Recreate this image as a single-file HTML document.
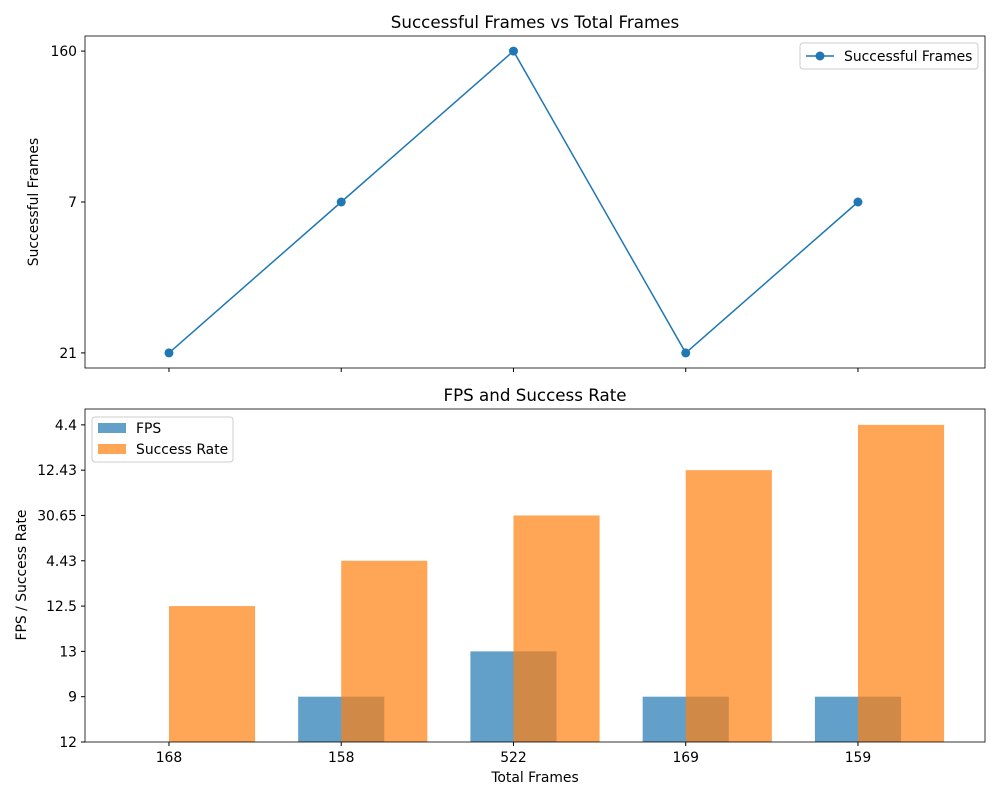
<!DOCTYPE html>
<html><head><meta charset="utf-8"><style>
body{margin:0;background:#fff}
svg{font-family:"DejaVu Sans","Liberation Sans",sans-serif}
</style></head><body>
<svg id="c" width="1000" height="800" xmlns="http://www.w3.org/2000/svg"></svg>
<script>
const categories=["168","158","522","169","159"];
const successfulFrames=["21","7","160","21","7"];
const fps=["12","9","13","9","9"];
const successRate=["12.5","4.43","30.65","12.43","4.4"];

const NS="http://www.w3.org/2000/svg";
const svg=document.getElementById('c');
function el(t,a,txt,p){const e=document.createElementNS(NS,t);for(const k in a)e.setAttribute(k,a[k]);if(txt!=null)e.textContent=txt;(p||svg).appendChild(e);return e;}
const L=85,R=985;
const xmin=-0.4875,xmax=4.7375;
const x=i=>L+(i-xmin)/(xmax-xmin)*(R-L);
function cats(arr){const c=[];arr.forEach(v=>{if(!c.includes(v))c.push(v)});return c;}
const TS=13.9, HS=16.7;

// TOP
const T1=36,B1=368;
const topCats=cats(successfulFrames);
const y1=v=>B1-(v+0.1)/(topCats.length-1+0.2)*(B1-T1);
let e=el('text',{x:535,y:28,'text-anchor':'middle','font-size':HS},'Successful Frames vs Total Frames');

topCats.forEach((c,i)=>{
  el('line',{x1:L-4,x2:L,y1:y1(i),y2:y1(i),stroke:'#000'});
  e=el('text',{x:L-8,y:y1(i)+5,'text-anchor':'end','font-size':TS},c);
  
});
categories.forEach((c,i)=>el('line',{x1:x(i),x2:x(i),y1:B1,y2:B1+4,stroke:'#000'}));
e=el('text',{x:38,y:202,'text-anchor':'middle','font-size':TS,transform:'rotate(-90 38 202)'},'Successful Frames');

const pts=successfulFrames.map((v,i)=>x(i)+','+y1(topCats.indexOf(v))).join(' ');
e=el('polyline',{points:pts,fill:'none',stroke:'#1f77b4','stroke-width':1.5});

successfulFrames.forEach((v,i)=>{const p=el('circle',{cx:x(i),cy:y1(topCats.indexOf(v)),r:4.5,fill:'#1f77b4'});
});
el('rect',{x:L,y:T1,width:R-L,height:B1-T1,fill:'none',stroke:'#000','stroke-width':0.8});
let g=el('g',{});
el('rect',{x:800,y:43,width:178,height:26,rx:3,fill:'#fff',stroke:'#ccc'},null,g);
el('line',{x1:806,x2:834,y1:56,y2:56,stroke:'#1f77b4','stroke-width':1.5},null,g);
el('circle',{cx:820,cy:56,r:4.5,fill:'#1f77b4'},null,g);
el('text',{x:844,y:61,'font-size':TS},'Successful Frames',g);

// BOTTOM
const T2=409,B2=742;
const botCats=cats(fps.concat(successRate));
const y2=v=>B2-v/(botCats.length-1)/1.05*(B2-T2);
e=el('text',{x:535,y:401,'text-anchor':'middle','font-size':HS},'FPS and Success Rate');

const w=0.5;
fps.forEach((v,i)=>{const h=botCats.indexOf(v);const b=el('rect',{x:x(i-w/2),y:y2(h),width:x(w)-x(0),height:B2-y2(h),fill:'#1f77b4','fill-opacity':0.7});
});
successRate.forEach((v,i)=>{const h=botCats.indexOf(v);const b=el('rect',{x:x(i),y:y2(h),width:x(w)-x(0),height:B2-y2(h),fill:'#ff7f0e','fill-opacity':0.7});
});
botCats.forEach((c,i)=>{
  el('line',{x1:L-4,x2:L,y1:y2(i),y2:y2(i),stroke:'#000'});
  e=el('text',{x:L-8,y:y2(i)+5,'text-anchor':'end','font-size':TS},c);
  
});
categories.forEach((c,i)=>{
  el('line',{x1:x(i),x2:x(i),y1:B2,y2:B2+4,stroke:'#000'});
  e=el('text',{x:x(i),y:B2+20,'text-anchor':'middle','font-size':TS},c);
  
});
e=el('text',{x:535,y:782,'text-anchor':'middle','font-size':TS},'Total Frames');

e=el('text',{x:26,y:575,'text-anchor':'middle','font-size':TS,transform:'rotate(-90 26 575)'},'FPS / Success Rate');

el('rect',{x:L,y:T2,width:R-L,height:B2-T2,fill:'none',stroke:'#000','stroke-width':0.8});
g=el('g',{});
el('rect',{x:92,y:417,width:141,height:45,rx:3,fill:'#fff',stroke:'#ccc'},null,g);
el('rect',{x:98,y:423,width:28,height:10,fill:'#1f77b4','fill-opacity':0.7},null,g);
el('text',{x:136,y:433,'font-size':TS},'FPS',g);
el('rect',{x:98,y:444,width:28,height:10,fill:'#ff7f0e','fill-opacity':0.7},null,g);
el('text',{x:136,y:454,'font-size':TS},'Success Rate',g);
</script>
</body></html>
